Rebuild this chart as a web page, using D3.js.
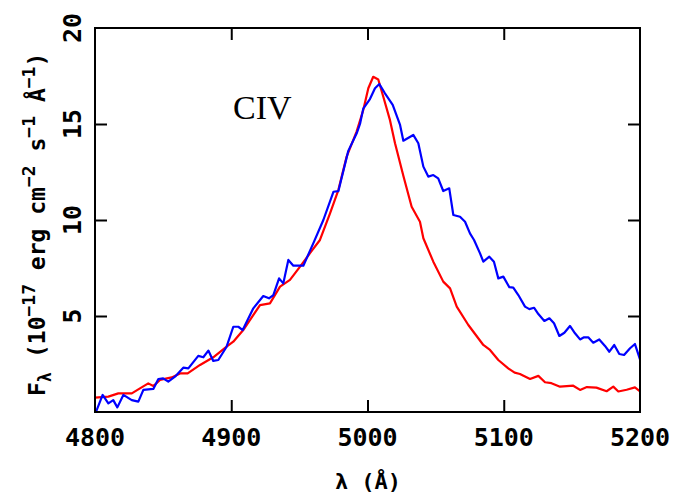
<!DOCTYPE html>
<html>
<head>
<meta charset="utf-8">
<style>
    body { margin: 0; background: #fff; }
    svg { display: block; }
    .tick-label { font-family: 'DejaVu Sans Mono', monospace; font-size: 25px; font-weight: bold; fill: #000; }
    .axis-label { font-family: 'DejaVu Sans Mono', monospace; font-weight: bold; fill: #000; }
</style>
</head>
<body>
<svg width="687" height="499"></svg>
<script src="https://d3js.org/d3.v7.min.js"></script>
<script>
// observed spectrum (blue)
const blueWave = [4800.7, 4805.6, 4809.8, 4813.4, 4816.4, 4820.8, 4827, 4831.8, 4835.5, 4842.8,
    4846.5, 4850, 4853.8, 4858.7, 4864.8, 4868.5, 4875.8, 4879.5, 4883.2, 4886.8,
    4890.5, 4896.6, 4901.5, 4905.2, 4908.4, 4916.2, 4923.5, 4927.7, 4930.9, 4935.1,
    4938.2, 4941.9, 4945.6, 4952.9, 4960.2, 4967.6, 4975, 4978.6, 4985.9, 4992,
    4994.5, 4996.9, 5001.8, 5005.5, 5008.7, 5012.8, 5018.5, 5023.9, 5026.3, 5033.6,
    5037.3, 5041, 5044.6, 5048.3, 5051.9, 5055.6, 5060, 5063, 5067.9, 5071.6,
    5075.2, 5078.2, 5082.6, 5085, 5089.4, 5092.8, 5096, 5099.7, 5104.1, 5107,
    5110.7, 5115.6, 5118.8, 5122.2, 5125.4, 5129.8, 5133.5, 5136.9, 5140.8, 5144.5,
    5148.6, 5152.3, 5156, 5158.9, 5162, 5165.7, 5170.1, 5174.3, 5177.5, 5181.1,
    5184.8, 5188.3, 5192.7, 5196.3, 5200];
const blueFlux = [0.0, 0.89, 0.45, 0.62, 0.24, 0.89, 0.62, 0.54, 1.15, 1.2,
    1.72, 1.75, 1.58, 1.84, 2.31, 2.27, 2.92, 2.85, 3.2, 2.66,
    2.71, 3.4, 4.44, 4.44, 4.27, 5.4, 6.04, 5.92, 6.09, 6.96,
    6.7, 7.92, 7.62, 7.62, 8.78, 10.0, 11.47, 11.5, 13.6, 14.5,
    15.0, 15.8, 16.3, 16.86, 17.08, 16.6, 16.0, 14.95, 14.13, 14.43,
    14.0, 12.78, 12.26, 12.34, 12.17, 11.51, 11.65, 10.26, 10.17, 9.91,
    9.3, 8.96, 8.26, 7.83, 8.09, 7.83, 6.96, 7.05, 6.5, 6.48,
    6.09, 5.49, 5.36, 5.43, 5.1, 4.74, 4.88, 4.62, 3.96, 4.13,
    4.48, 4.1, 3.78, 3.89, 3.89, 3.61, 3.78, 3.44, 3.14, 3.49,
    3.02, 2.97, 3.32, 3.54, 2.74];

// comparison profile (red)
const redWave = [4800, 4809.8, 4817.1, 4827, 4833, 4839.1, 4842.8, 4847.7, 4856.3, 4862.4,
    4868, 4877.1, 4886.8, 4896.6, 4901.5, 4908.8, 4921.1, 4928.4, 4935.8, 4943.1,
    4950.5, 4957.8, 4965.1, 4972.5, 4978.6, 4984.7, 4992, 4996.9, 5000.6, 5004.2,
    5007.9, 5011.6, 5016.5, 5020.2, 5026.3, 5032.4, 5038.5, 5041, 5048.3, 5055.6,
    5060.6, 5065.5, 5074, 5085, 5089.9, 5096, 5103.3, 5108, 5111.9, 5119.3,
    5125.4, 5130.3, 5135, 5141.3, 5151, 5156, 5161, 5168, 5175.5, 5180.4,
    5184.1, 5190.2, 5196.3, 5200];
const redFlux = [0.75, 0.8, 0.97, 0.97, 1.23, 1.49, 1.35, 1.67, 1.8, 2.01,
    2.01, 2.45, 2.85, 3.4, 3.66, 4.27, 5.57, 5.66, 6.53, 6.88,
    7.57, 8.27, 8.96, 10.35, 11.56, 13.3, 14.6, 15.73, 16.86, 17.46,
    17.32, 16.42, 15.2, 14.0, 12.3, 10.69, 9.91, 9.05, 7.83, 6.79,
    6.44, 5.49, 4.53, 3.49, 3.23, 2.71, 2.27, 2.05, 1.98, 1.72,
    1.88, 1.55, 1.5, 1.32, 1.37, 1.15, 1.3, 1.27, 1.08, 1.32,
    1.07, 1.16, 1.28, 1.08];

const xTicks = [4800, 4900, 5000, 5100, 5200];
const yTicks = [5, 10, 15, 20];

const svg = d3.select("svg");
const mLeft = 95, mRight = 640, mTop = 28, mBottom = 412;
const tickLen = 12;

const x = d3.scaleLinear().domain([4800, 5200]).range([mLeft, mRight]);
const y = d3.scaleLinear().domain([0, 20]).range([mBottom, mTop]);

svg.append("clipPath").attr("id", "plot-clip")
    .append("rect")
    .attr("x", mLeft).attr("y", mTop)
    .attr("width", mRight - mLeft).attr("height", mBottom - mTop);

const line = d3.line()
    .x(d => x(d[0]))
    .y(d => y(d[1]));

const redData = redWave.map((w, i) => [w, redFlux[i]]);
const blueData = blueWave.map((w, i) => [w, blueFlux[i]]);

const curves = svg.append("g").attr("clip-path", "url(#plot-clip)");
curves.append("path")
    .datum(redData)
    .attr("d", line)
    .attr("fill", "none")
    .attr("stroke", "#ff0000")
    .attr("stroke-width", 2.2)
    .attr("stroke-linejoin", "round");
curves.append("path")
    .datum(blueData)
    .attr("d", line)
    .attr("fill", "none")
    .attr("stroke", "#0000ff")
    .attr("stroke-width", 2.2)
    .attr("stroke-linejoin", "round");

// frame
svg.append("rect")
    .attr("x", mLeft).attr("y", mTop)
    .attr("width", mRight - mLeft).attr("height", mBottom - mTop)
    .attr("fill", "none")
    .attr("stroke", "#000")
    .attr("stroke-width", 2);

// inward ticks on all four sides (interior only)
const innerX = xTicks.filter(v => v > 4800 && v < 5200);
const innerY = yTicks.filter(v => v > 0 && v < 20);

const xAxisB = d3.axisBottom(x).tickValues(innerX).tickSize(-tickLen).tickFormat("");
svg.append("g").attr("transform", `translate(0,${mBottom})`).call(xAxisB)
    .call(g => g.select(".domain").remove())
    .call(g => g.selectAll("line").attr("stroke-width", 2));
const xAxisT = d3.axisTop(x).tickValues(innerX).tickSize(-tickLen).tickFormat("");
svg.append("g").attr("transform", `translate(0,${mTop})`).call(xAxisT)
    .call(g => g.select(".domain").remove())
    .call(g => g.selectAll("line").attr("stroke-width", 2));
const yAxisL = d3.axisLeft(y).tickValues(innerY).tickSize(-tickLen).tickFormat("");
svg.append("g").attr("transform", `translate(${mLeft},0)`).call(yAxisL)
    .call(g => g.select(".domain").remove())
    .call(g => g.selectAll("line").attr("stroke-width", 2));
const yAxisR = d3.axisRight(y).tickValues(innerY).tickSize(-tickLen).tickFormat("");
svg.append("g").attr("transform", `translate(${mRight},0)`).call(yAxisR)
    .call(g => g.select(".domain").remove())
    .call(g => g.selectAll("line").attr("stroke-width", 2));

// tick labels
svg.append("g").selectAll("text")
    .data(xTicks)
    .join("text")
    .attr("class", "tick-label")
    .attr("x", d => x(d))
    .attr("y", mBottom + 34)
    .attr("text-anchor", "middle")
    .text(d => d);

svg.append("g").selectAll("text")
    .data(yTicks)
    .join("text")
    .attr("class", "tick-label")
    .attr("transform", d => `translate(${mLeft - 14},${y(d)}) rotate(-90)`)
    .attr("text-anchor", "middle")
    .text(d => d);

// axis labels
svg.append("text")
    .attr("class", "axis-label")
    .attr("x", 368)
    .attr("y", 489)
    .attr("text-anchor", "middle")
    .attr("font-size", 22)
    .text("λ (Å)");

const ylab = svg.append("text")
    .attr("class", "axis-label")
    .attr("transform", "translate(45,396) rotate(-90)")
    .attr("text-anchor", "start")
    .attr("font-size", 23);
ylab.append("tspan").text("F");
ylab.append("tspan").attr("font-size", 17).attr("dy", 6).text("λ");
ylab.append("tspan").attr("dy", -6).text(" (10");
ylab.append("tspan").attr("font-size", 18).attr("dy", -10).text("−17");
ylab.append("tspan").attr("dy", 10).text(" erg cm");
ylab.append("tspan").attr("font-size", 18).attr("dy", -10).text("−2");
ylab.append("tspan").attr("dy", 10).text(" s");
ylab.append("tspan").attr("font-size", 18).attr("dy", -10).text("−1");
ylab.append("tspan").attr("dy", 10).text(" Å");
ylab.append("tspan").attr("font-size", 18).attr("dy", -10).text("−1");
ylab.append("tspan").attr("dy", 10).text(")");

// line label
svg.append("text")
    .attr("x", 233)
    .attr("y", 119)
    .attr("font-family", "'Liberation Serif', 'Times New Roman', serif")
    .attr("font-size", 34)
    .attr("fill", "#000")
    .text("CIV");
</script>
</body>
</html>
